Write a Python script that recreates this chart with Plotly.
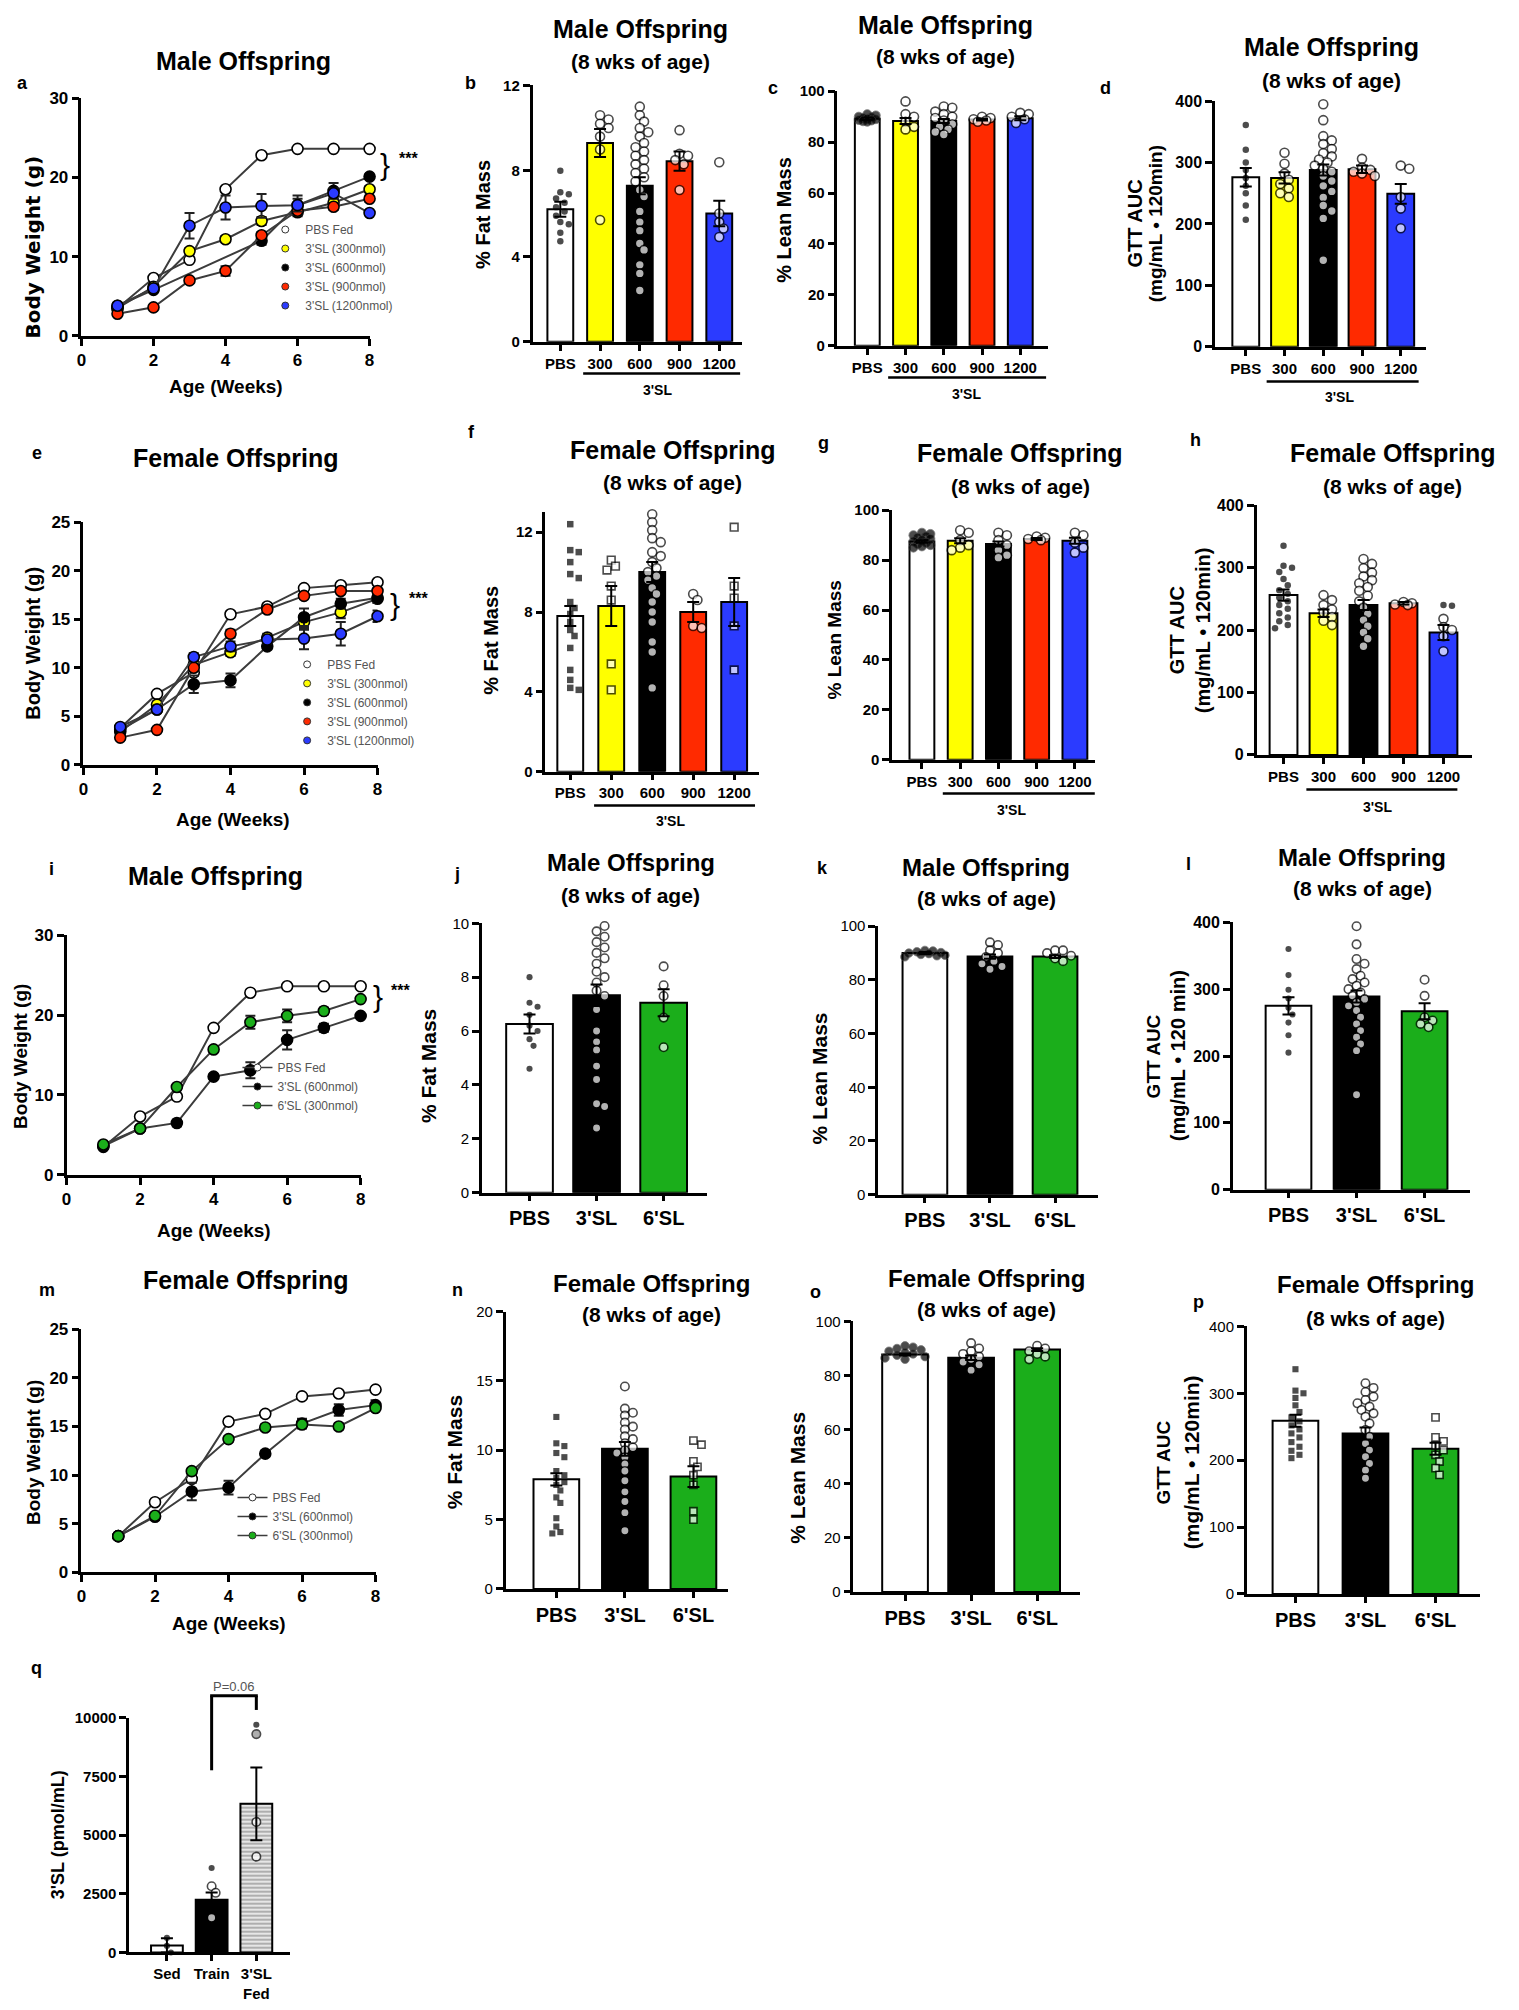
import plotly.graph_objects as go

W, H = 1519, 2010
ARIAL = "Liberation Sans, Arial, Helvetica, sans-serif"
DEJAVU = "DejaVu Sans, Liberation Sans, sans-serif"
BLK, WHT = "#000000", "#FFFFFF"
YEL, RED, BLU, GRN = "#FFFF00", "#FF2A00", "#2B3BFF", "#1BAE1B"
LINEC = "#3c3c3c"

# ======================= DATA =======================
weeks = [1, 2, 3, 4, 5, 6, 7, 8]
dose_cats = ["PBS", "300", "600", "900", "1200"]
sl_cats = ["PBS", "3'SL", "6'SL"]
q_cats = ["Sed", "Train", "3'SL<br>Fed"]
legend_dose = ["PBS Fed", "3'SL (300nmol)", "3'SL (600nmol)", "3'SL (900nmol)", "3'SL (1200nmol)"]
legend_sl = ["PBS Fed", "3'SL (600nmol)", "6'SL (300nmol)"]

# (a) male body weight
a_pbs = [3.5, 7.3, 9.6, 18.5, 22.8, 23.6, 23.6, 23.6]
a_300 = [3.5, 6.2, 10.7, 12.2, 14.5, 15.6, 16.8, 18.5]
a_600 = [3.8, 5.8, None, None, 12.0, 16.5, 18.3, 20.1]
a_900 = [2.8, 3.6, 7.0, 8.2, 12.7, 15.8, 16.3, 17.3]
a_1200 = [3.8, 6.0, 13.9, 16.2, 16.4, 16.5, 18.0, 15.5]
a_err_pbs = [0.2, 0.2, 0.2, 0.3, 0.2, 0.2, 0.2, 0.2]
a_err_300 = [0.2, 0.3, 0.4, 0.4, 0.5, 0.5, 0.5, 0.4]
a_err_600 = [0.2, 0.3, 0, 0, 0.5, 1.2, 1.0, 0.3]
a_err_900 = [0.2, 0.2, 0.3, 0.6, 0.4, 0.5, 0.4, 0.4]
a_err_1200 = [0.2, 0.3, 1.6, 1.5, 1.5, 0.8, 0.6, 0.3]

# (b) male % fat mass
b_means = [6.2, 9.3, 7.3, 8.45, 6.0]
b_sems = [0.35, 0.65, 0.4, 0.45, 0.6]
b_pbs = [8.0, 7.0, 6.9, 6.7, 6.5, 6.3, 6.1, 5.9, 5.6, 5.5, 5.1, 4.7]
b_300 = [10.6, 10.4, 10.2, 10.0, 9.6, 9.0, 5.7]
b_600 = [11.0, 10.6, 10.3, 10.0, 9.8, 9.6, 9.3, 9.1, 8.9, 8.7, 8.5, 8.3, 8.1, 7.9, 7.7,
         7.5, 7.1, 6.8, 6.1, 5.6, 5.2, 4.6, 4.3, 3.6, 3.2, 2.4]
b_900 = [9.9, 8.8, 8.7, 8.5, 8.3, 7.1]
b_1200 = [8.4, 6.0, 5.6, 5.3, 4.9]

# (c) male % lean mass
c_means = [89.2, 88.3, 88.3, 88.9, 89.4]
c_sems = [0.5, 1.2, 0.8, 0.4, 0.8]
c_pbs = [91, 90.5, 90, 89.8, 89.5, 89.2, 89, 88.7, 88.5, 88.2, 88]
c_300 = [96, 91, 90, 88, 86, 85]
c_600 = [94, 93.5, 92, 91, 90, 89.5, 88.5, 87, 86, 85, 84, 83]
c_900 = [90, 89.5, 89, 88.5, 88]
c_1200 = [91.5, 91, 90, 89, 87.5]

# (d) male GTT AUC
d_means = [276, 275, 288, 289, 249]
d_sems = [15, 9, 9, 6, 16]
d_pbs = [361, 321, 300, 288, 275, 262, 250, 230, 207]
d_300 = [316, 298, 282, 272, 265, 258, 250, 244]
d_600 = [395, 369, 343, 336, 330, 322, 315, 310, 305, 300, 295, 290, 285, 278, 270, 262,
         253, 243, 230, 221, 209, 141]
d_900 = [306, 292, 288, 285, 282, 278]
d_1200 = [295, 290, 244, 225, 193]

# (e) female body weight
e_pbs = [3.8, 7.3, 9.5, 15.5, 16.3, 18.2, 18.5, 18.8]
e_300 = [3.4, 6.2, 10.3, 11.6, 13.1, 14.7, 15.7, 17.1]
e_600 = [3.6, 5.7, 8.3, 8.7, 12.2, 15.2, 16.6, 17.2]
e_900 = [2.8, 3.6, 10.0, 13.5, 16.0, 17.4, 17.9, 17.9]
e_1200 = [3.9, 5.7, 11.1, 12.2, 12.9, 13.0, 13.5, 15.3]
e_err_pbs = [0.2, 0.2, 0.3, 0.3, 0.3, 0.2, 0.2, 0.2]
e_err_300 = [0.2, 0.3, 0.4, 0.4, 0.4, 0.8, 0.6, 0.4]
e_err_600 = [0.2, 0.3, 0.9, 0.7, 0.3, 0.9, 0.5, 0.5]
e_err_900 = [0.2, 0.2, 0.3, 0.4, 0.3, 0.3, 0.3, 0.3]
e_err_1200 = [0.2, 0.3, 0.4, 0.5, 0.4, 1.1, 1.2, 0.6]

# (f) female % fat mass
f_means = [7.8, 8.3, 10.0, 8.0, 8.5]
f_sems = [0.5, 1.0, 0.5, 0.5, 1.2]
f_pbs = [12.4, 11.1, 11.0, 10.5, 9.9, 9.7, 8.5, 8.2, 7.9, 7.5, 7.1, 6.8, 6.2, 5.1, 4.6, 4.2, 4.1]
f_300 = [10.6, 10.3, 10.1, 9.3, 8.6, 5.4, 4.1]
f_600 = [12.9, 12.5, 12.1, 11.7, 11.5, 11.0, 10.8, 10.5, 10.2, 10.0, 9.8, 9.6, 9.2, 8.9, 8.5,
         8.0, 7.5, 6.5, 6.0, 4.2]
f_900 = [8.9, 8.6, 7.3, 7.2]
f_1200 = [12.25, 9.3, 8.7, 7.3, 5.1]

# (g) female % lean mass
g_means = [87.5, 87.8, 86.5, 88.5, 87.8]
g_sems = [0.5, 1.0, 1.0, 0.4, 1.2]
g_pbs = [91, 90.5, 90, 89.5, 89, 88.5, 88, 87.5, 87, 86.5, 86, 85.5, 85]
g_300 = [92, 91, 88, 86, 85, 84]
g_600 = [91, 90, 88, 86, 84, 82, 81]
g_900 = [89.5, 89, 88.5, 88]
g_1200 = [91, 90, 87, 85, 83]

# (h) female GTT AUC
h_means = [256, 227, 240, 243, 196]
h_sems = [9, 6, 8, 2, 12]
h_pbs = [335, 303, 300, 293, 282, 272, 264, 258, 252, 246, 240, 234, 227, 220, 214, 208, 203]
h_300 = [256, 248, 240, 233, 228, 221, 215, 208]
h_600 = [314, 306, 299, 292, 286, 280, 275, 269, 263, 255, 246, 236, 226, 216, 206, 196, 186, 174]
h_900 = [245, 243, 241, 240]
h_1200 = [240, 239, 218, 205, 200, 190, 166]

# (i) male body weight, 3'SL vs 6'SL
i_pbs = [3.5, 7.3, 9.8, 18.4, 22.8, 23.6, 23.6, 23.6]
i_3sl = [3.6, 5.8, 6.5, 12.3, 13.1, 16.9, 18.4, 19.9]
i_6sl = [3.8, 5.8, 11.0, 15.7, 19.1, 19.9, 20.5, 22.0]
i_err_pbs = [0.2, 0.2, 0.3, 0.3, 0.3, 0.2, 0.2, 0.2]
i_err_3sl = [0.2, 0.3, 0.4, 0.3, 1.0, 1.2, 0.5, 0.3]
i_err_6sl = [0.2, 0.2, 0.3, 0.3, 0.8, 0.8, 0.4, 0.3]

# (j) male % fat mass
j_means = [6.26, 7.33, 7.05]
j_sems = [0.35, 0.4, 0.5]
j_pbs = [8.0, 7.05, 6.9, 6.6, 6.2, 6.0, 5.7, 5.45, 4.6]
j_3sl = [10.1, 9.9, 9.7, 9.5, 9.3, 9.1, 8.9, 8.7, 8.5, 8.2, 8.0, 7.8, 7.5, 7.3, 6.8, 6.0,
         5.6, 5.3, 4.7, 4.2, 3.3, 3.2, 2.4]
j_6sl = [8.4, 7.7, 7.3, 6.5, 5.4]

# (k) male % lean mass
k_means = [90.0, 88.7, 88.7]
k_sems = [0.4, 0.8, 0.5]
k_pbs = [91, 90.8, 90.5, 90.2, 90, 89.8, 89.5, 89.2, 89, 88.6]
k_3sl = [94, 93, 91, 90, 88.5, 87, 86, 85, 84]
k_6sl = [91, 91, 90, 89, 88, 87]

# (l) male GTT AUC
l_means = [275, 289, 267]
l_sems = [13, 9, 12]
l_pbs = [360, 321, 299, 286, 272, 262, 250, 231, 205]
l_3sl = [394, 367, 345, 338, 330, 320, 315, 310, 305, 300, 295, 290, 285, 280, 275, 268,
         258, 248, 238, 228, 218, 208, 142]
l_6sl = [314, 290, 258, 253, 248, 243]

# (m) female body weight, 3'SL vs 6'SL
m_pbs = [3.7, 7.2, 9.6, 15.5, 16.3, 18.1, 18.4, 18.8]
m_3sl = [3.7, 5.7, 8.3, 8.7, 12.2, 15.3, 16.7, 17.2]
m_6sl = [3.7, 5.8, 10.4, 13.7, 14.9, 15.2, 15.0, 16.9]
m_err_pbs = [0.2, 0.2, 0.3, 0.3, 0.3, 0.2, 0.2, 0.2]
m_err_3sl = [0.2, 0.3, 0.9, 0.7, 0.3, 0.5, 0.6, 0.5]
m_err_6sl = [0.2, 0.2, 0.3, 0.3, 0.3, 0.3, 0.3, 0.3]

# (n) female % fat mass
n_means = [7.9, 10.1, 8.1]
n_sems = [0.45, 0.5, 0.75]
n_pbs = [12.4, 10.5, 10.3, 9.8, 9.5, 8.5, 8.2, 8.0, 7.7, 7.5, 7.1, 6.6, 6.2, 5.1, 4.5, 4.1, 4.0]
n_3sl = [14.6, 13.0, 12.7, 12.5, 12.0, 11.7, 11.5, 11.0, 10.8, 10.5, 10.2, 10.0, 9.8, 9.5,
         9.0, 8.5, 7.8, 7.0, 6.3, 5.5, 4.2]
n_6sl = [10.7, 10.4, 9.2, 8.8, 8.2, 7.5, 5.6, 5.0]

# (o) female % lean mass
o_means = [87.8, 86.6, 89.6]
o_sems = [0.4, 0.8, 0.5]
o_pbs = [91, 90.5, 90, 89.5, 89, 88.5, 88, 87.5, 87, 86.5, 86]
o_3sl = [92, 90, 89, 88, 87, 86, 85, 84, 82]
o_6sl = [91, 90, 89, 88, 87, 86]

# (p) female GTT AUC
p_means = [259, 240, 217]
p_sems = [9, 9, 9]
p_pbs = [336, 304, 300, 293, 282, 272, 264, 258, 252, 246, 240, 234, 227, 220, 214, 208, 203]
p_3sl = [315, 308, 302, 295, 290, 285, 280, 275, 270, 265, 255, 245, 235, 225, 215, 205, 195, 185, 173]
p_6sl = [264, 234, 228, 222, 215, 208, 198, 188, 178]

# (q) serum 3'SL
q_means = [300, 2250, 6330]
q_sems = [300, 300, 1550]
q_sed = [620, 280, 0]
q_train = [3600, 2820, 2540, 1480]
q_fed = [9700, 9300, 5560, 4080]
q_pvalue = "P=0.06"

# ======================= HELPERS =======================
fig = go.Figure()
axes_layout = {}
annotations = []
shapes = []
counter = [0]


def fx(px):
    return px / W


def fy(py):
    return 1 - py / H


def font(size, bold=True, family=ARIAL, color=BLK):
    return dict(family=family, size=size, color=color, weight="bold" if bold else "normal")


def text(x, y, s, size, bold=True, family=ARIAL, angle=0, color=BLK, xanchor="center"):
    annotations.append(dict(x=fx(x), y=fy(y), xref="paper", yref="paper", text=s, showarrow=False,
                            font=font(size, bold, family, color), textangle=angle,
                            xanchor=xanchor, yanchor="middle"))


def hline(x0, x1, y, width=2.5):
    shapes.append(dict(type="line", xref="paper", yref="paper", x0=fx(x0), x1=fx(x1),
                       y0=fy(y), y1=fy(y), line=dict(color=BLK, width=width)))


def vline(x, y0, y1, width=2.5):
    shapes.append(dict(type="line", xref="paper", yref="paper", x0=fx(x), x1=fx(x),
                       y0=fy(y0), y1=fy(y1), line=dict(color=BLK, width=width)))


def new_axes(x0, x1, ytop, ybot, xrange, yrange, xkw, ykw):
    counter[0] += 1
    k = counter[0]
    sx = "" if k == 1 else str(k)
    base = dict(showline=True, linecolor=BLK, linewidth=2.5, ticks="outside", ticklen=7,
                tickwidth=2.5, tickcolor=BLK, showgrid=False, zeroline=False, mirror=False,
                fixedrange=True)
    xa = {**base, **xkw, "domain": [fx(x0), fx(x1)], "range": xrange, "anchor": "y" + sx}
    ya = {**base, **ykw, "domain": [fy(ybot), fy(ytop)], "range": yrange, "anchor": "x" + sx}
    axes_layout["xaxis" + sx] = xa
    axes_layout["yaxis" + sx] = ya
    return "x" + sx, "y" + sx


def swarm_offsets(vals, ppu_y, ppu_x, diam, max_px):
    n = len(vals)
    order = sorted(range(n), key=lambda i: -vals[i])
    step = diam * 0.5
    cands = [0.0]
    j = 1
    while j * step <= max_px:
        cands += [j * step, -j * step]
        j += 1
    placed = []
    offs = [0.0] * n
    for i in order:
        yp = vals[i] * ppu_y
        best, bestc, bestd = None, 0.0, -1.0
        for c in cands:
            dmin = min([((c - px) ** 2 + (yp - py) ** 2) ** 0.5 for px, py in placed] or [1e9])
            if dmin >= diam * 0.85:
                best = c
                break
            if dmin > bestd:
                bestd, bestc = dmin, c
        if best is None:
            best = bestc
        placed.append((best, yp))
        offs[i] = best / ppu_x
    return offs


STYLES = {
    "dot": dict(symbol="circle", scale=0.72, color=BLK, lc=BLK, lw=0),
    "sq": dict(symbol="square", scale=0.72, color=BLK, lc=BLK, lw=0),
    "open": dict(symbol="circle", scale=1.0, color=WHT, lc=BLK, lw=1.6),
    "opensq": dict(symbol="square", scale=0.85, color=WHT, lc=BLK, lw=1.6),
    "blk": dict(symbol="circle", scale=1.0, color=BLK, lc="#444", lw=0.8),
    "gray": dict(symbol="circle", scale=1.0, color="#8c8c8c", lc=BLK, lw=1.6),
}


def bar_panel(Y, E, B0, S, ytop, ybot, yrange, ytickvals, cats, means, sems, pts, colors, styles,
              barw_px, xfont, yfont, ybold=True, msize=9, pattern=None, ytickformat=None,
              xstandoff=None):
    r0 = -(B0 - Y) / S
    r1 = (E - B0) / S
    n = len(cats)
    xkw = dict(tickvals=list(range(n)), ticktext=cats, tickfont=font(xfont), ticklen=6)
    if xstandoff is not None:
        xkw["ticklabelstandoff"] = xstandoff
    ykw = dict(tickvals=ytickvals, tickfont=font(yfont, ybold))
    if ytickformat:
        ykw["tickformat"] = ytickformat
    xr, yr = new_axes(Y, E, ytop, ybot, [r0, r1], yrange, xkw, ykw)
    xs = list(range(n))
    marker = dict(color=colors, line=dict(color=BLK, width=2))
    if pattern:
        marker["pattern"] = pattern
    fig.add_trace(go.Bar(x=xs, y=means, width=barw_px / S, marker=marker, xaxis=xr, yaxis=yr,
                         showlegend=False, hoverinfo="skip"))
    ppu_y = (ybot - ytop) / (yrange[1] - yrange[0])
    for gi, vals in enumerate(pts):
        st = styles[gi]
        stl = st if isinstance(st, list) else [st] * len(vals)
        offs = swarm_offsets(vals, ppu_y, S, msize * 0.95, barw_px * 0.5)
        fig.add_trace(go.Scatter(
            x=[gi + o for o in offs], y=vals, mode="markers", xaxis=xr, yaxis=yr,
            showlegend=False, cliponaxis=False, hoverinfo="skip",
            marker=dict(symbol=[STYLES[s]["symbol"] for s in stl],
                        size=[msize * STYLES[s]["scale"] for s in stl],
                        color=[STYLES[s]["color"] for s in stl],
                        line=dict(color=[STYLES[s]["lc"] for s in stl],
                                  width=[STYLES[s]["lw"] for s in stl]))))
    fig.add_trace(go.Scatter(x=xs, y=means, mode="markers", xaxis=xr, yaxis=yr, showlegend=False,
                             marker=dict(size=1, color="rgba(0,0,0,0)"), hoverinfo="skip",
                             error_y=dict(type="data", array=sems, color=BLK, thickness=2,
                                          width=6)))
    return xr, yr


def line_panel(x0, x1, ytop, ybot, yrange, ytickvals, series, errs, fills, names, legend_id,
               legend_mode):
    xkw = dict(tickvals=[0, 2, 4, 6, 8], tickfont=font(17))
    ykw = dict(tickvals=ytickvals, tickfont=font(17))
    xr, yr = new_axes(x0, x1, ytop, ybot, [0, 8], yrange, xkw, ykw)
    for vals, er, fc in zip(series, errs, fills):
        fig.add_trace(go.Scatter(
            x=weeks, y=vals, mode="lines+markers", connectgaps=True, xaxis=xr, yaxis=yr,
            showlegend=False, cliponaxis=False, hoverinfo="skip",
            line=dict(color=LINEC, width=2),
            marker=dict(size=11, color=fc, line=dict(color=BLK, width=1.6)),
            error_y=dict(type="data", array=er, color="#222", thickness=2, width=5)))
    for vals, fc, nm in zip(series, fills, names):
        fig.add_trace(go.Scatter(
            x=[None], y=[None], mode=legend_mode, name=nm, legend=legend_id, xaxis=xr, yaxis=yr,
            line=dict(color=LINEC, width=1.5),
            marker=dict(size=7, color=fc, line=dict(color="#333", width=1))))
    return xr, yr


def brace(x, y, size=30):
    text(x, y, "}", size, bold=False)
    text(x + 23, y - 6, "***", 16, bold=True)


# ======================= ROW 1 =======================
line_panel(77, 367, 90, 330, [0, 30], [0, 10, 20, 30],
           [a_pbs, a_300, a_600, a_900, a_1200],
           [a_err_pbs, a_err_300, a_err_600, a_err_900, a_err_1200],
           [WHT, YEL, BLK, RED, BLU], legend_dose, "legend", "markers")
text(240, 52, "Male Offspring", 25)
text(18, 75, "a", 18)
text(28, 240, "Body Weight (g)", 20, family=DEJAVU, angle=-90)
text(222, 381, "Age (Weeks)", 19)
brace(383, 157)

five_colors = [WHT, YEL, BLK, RED, BLU]
bar_panel(531, 742, 559, 40, 77, 336, [0, 12], [0, 4, 8, 12], dose_cats, b_means, b_sems,
          [b_pbs, b_300, b_600, b_900, b_1200], five_colors,
          ["dot", "open", "open", "open", "open"], 26, 15, 15)
text(640, 20, "Male Offspring", 25)
text(640, 53, "(8 wks of age)", 21)
text(469, 75, "b", 18)
text(481, 207, "% Fat Mass", 20, angle=-90)
hline(582, 740, 368)
text(657, 385, "3'SL", 14)

bar_panel(838, 1050, 868, 38.5, 83, 340, [0, 100], [0, 20, 40, 60, 80, 100], dose_cats, c_means,
          c_sems, [c_pbs, c_300, c_600, c_900, c_1200], five_colors,
          ["blk", "open", "open", "open", "open"], 25, 15, 15)
text(947, 16, "Male Offspring", 25)
text(947, 48, "(8 wks of age)", 21)
text(773, 80, "c", 18)
text(784, 213, "% Lean Mass", 20, angle=-90)
hline(889, 1048, 372)
text(968, 389, "3'SL", 14)

bar_panel(1218, 1430, 1249, 39, 93, 341, [0, 400], [0, 100, 200, 300, 400], dose_cats, d_means,
          d_sems, [d_pbs, d_300, d_600, d_900, d_1200], five_colors,
          ["dot", "open", "open", "open", "open"], 27, 15, 16)
text(1335, 38, "Male Offspring", 25)
text(1335, 72, "(8 wks of age)", 21)
text(1108, 80, "d", 18)
text(1137, 217, "GTT AUC", 20, angle=-90)
text(1159, 217, "(mg/mL • 120min)", 19, angle=-90)
hline(1270, 1423, 376)
text(1343, 392, "3'SL", 14)

# ======================= ROW 2 =======================
line_panel(79, 375, 518, 763, [0, 25], [0, 5, 10, 15, 20, 25],
           [e_pbs, e_300, e_600, e_900, e_1200],
           [e_err_pbs, e_err_300, e_err_600, e_err_900, e_err_1200],
           [WHT, YEL, BLK, RED, BLU], legend_dose, "legend2", "markers")
text(233, 453, "Female Offspring", 25)
text(32, 448, "e", 18)
text(28, 640, "Body Weight (g)", 20, angle=-90)
text(230, 818, "Age (Weeks)", 19)
brace(393, 601)

bar_panel(544, 759, 569, 41.25, 508, 770, [0, 13], [0, 4, 8, 12], dose_cats, f_means, f_sems,
          [f_pbs, f_300, f_600, f_900, f_1200], five_colors,
          ["sq", "opensq", "open", "open", "opensq"], 26, 15, 15)
text(672, 445, "Female Offspring", 25)
text(672, 478, "(8 wks of age)", 21)
text(470, 427, "f", 18)
text(489, 637, "% Fat Mass", 20, angle=-90)
hline(593, 755, 804)
text(670, 820, "3'SL", 14)

bar_panel(893, 1097, 923, 38.5, 506, 758, [0, 100], [0, 20, 40, 60, 80, 100], dose_cats, g_means,
          g_sems, [g_pbs, g_300, g_600, g_900, g_1200], five_colors,
          ["blk", "open", "open", "open", "open"], 25, 15, 15)
text(1022, 448, "Female Offspring", 25)
text(1022, 482, "(8 wks of age)", 21)
text(824, 438, "g", 18)
text(835, 637, "% Lean Mass", 19, angle=-90)
hline(944, 1097, 792)
text(1013, 809, "3'SL", 14)

bar_panel(1260, 1477, 1287, 40.25, 501, 753, [0, 400], [0, 100, 200, 300, 400], dose_cats,
          h_means, h_sems, [h_pbs, h_300, h_600, h_900, h_1200], five_colors,
          ["dot", "open", "open", "open", ["dot", "dot", "open", "open", "open", "open", "open"]],
          28, 15, 16)
text(1397, 448, "Female Offspring", 25)
text(1397, 482, "(8 wks of age)", 21)
text(1198, 435, "h", 18)
text(1180, 627, "GTT AUC", 20, angle=-90)
text(1206, 627, "(mg/mL • 120min)", 20, angle=-90)
hline(1310, 1462, 788)
text(1382, 806, "3'SL", 14)

# ======================= ROW 3 =======================
line_panel(62, 358, 935, 1177, [0, 30], [0, 10, 20, 30],
           [i_pbs, i_3sl, i_6sl], [i_err_pbs, i_err_3sl, i_err_6sl],
           [WHT, BLK, GRN], legend_sl, "legend3", "lines+markers")
text(212, 875, "Male Offspring", 25)
text(47, 868, "i", 18)
text(15, 1057, "Body Weight (g)", 19, angle=-90)
text(210, 1233, "Age (Weeks)", 19)
brace(375, 997)

three_colors = [WHT, BLK, GRN]
bar_panel(480, 707, 528, 67.5, 923, 1195, [0, 10], [0, 2, 4, 6, 8, 10], sl_cats, j_means, j_sems,
          [j_pbs, j_3sl, j_6sl], three_colors, ["dot", "open", "open"], 47, 20, 15, ybold=False,
          msize=8.5)
text(630, 862, "Male Offspring", 24)
text(630, 895, "(8 wks of age)", 21)
text(455, 873, "j", 18)
text(427, 1067, "% Fat Mass", 21, angle=-90)

bar_panel(879, 1100, 926, 65.5, 926, 1197, [0, 100], [0, 20, 40, 60, 80, 100], sl_cats, k_means,
          k_sems, [k_pbs, k_3sl, k_6sl], three_colors, ["blk", "open", "open"], 45, 20, 15,
          ybold=False, msize=8.5)
text(988, 867, "Male Offspring", 24)
text(988, 898, "(8 wks of age)", 21)
text(823, 867, "k", 18)
text(820, 1080, "% Lean Mass", 21, angle=-90)

bar_panel(1236, 1475, 1292, 68.5, 922, 1192, [0, 400], [0, 100, 200, 300, 400], sl_cats, l_means,
          l_sems, [l_pbs, l_3sl, l_6sl], three_colors, ["dot", "open", "open"], 46, 20, 16,
          msize=8.5)
text(1366, 857, "Male Offspring", 24)
text(1366, 888, "(8 wks of age)", 21)
text(1191, 863, "l", 18)
text(1156, 1057, "GTT AUC", 19, angle=-90)
text(1181, 1057, "(mg/mL • 120 min)", 20, angle=-90)

# ======================= ROW 4 =======================
line_panel(77, 373, 1333, 1578, [0, 25], [0, 5, 10, 15, 20, 25],
           [m_pbs, m_3sl, m_6sl], [m_err_pbs, m_err_3sl, m_err_6sl],
           [WHT, BLK, GRN], legend_sl, "legend4", "lines+markers")
text(243, 1283, "Female Offspring", 25)
text(42, 1293, "m", 18)
text(28, 1457, "Body Weight (g)", 19, angle=-90)
text(225, 1630, "Age (Weeks)", 19)

bar_panel(504, 728, 555, 69, 1315, 1595, [0, 20], [0, 5, 10, 15, 20], sl_cats, n_means, n_sems,
          [n_pbs, n_3sl, n_6sl], three_colors, ["sq", "open", "opensq"], 46, 20, 15, ybold=False,
          msize=8.5)
text(651, 1287, "Female Offspring", 24)
text(651, 1318, "(8 wks of age)", 21)
text(455, 1293, "n", 18)
text(452, 1457, "% Fat Mass", 21, angle=-90)

bar_panel(854, 1082, 906, 66.5, 1325, 1598, [0, 100], [0, 20, 40, 60, 80, 100], sl_cats, o_means,
          o_sems, [o_pbs, o_3sl, o_6sl], three_colors, ["blk", "open", "open"], 46, 20, 15,
          ybold=False, msize=8.5)
text(988, 1282, "Female Offspring", 24)
text(988, 1313, "(8 wks of age)", 21)
text(816, 1295, "o", 18)
text(798, 1483, "% Lean Mass", 21, angle=-90)

bar_panel(1250, 1485, 1299, 70.5, 1330, 1600, [0, 400], [0, 100, 200, 300, 400], sl_cats, p_means,
          p_sems, [p_pbs, p_3sl, p_6sl], three_colors, ["sq", "open", "opensq"], 46, 20, 15,
          ybold=False, msize=8.5)
text(1380, 1288, "Female Offspring", 24)
text(1380, 1322, "(8 wks of age)", 21)
text(1201, 1305, "p", 18)
text(1166, 1467, "GTT AUC", 19, angle=-90)
text(1194, 1467, "(mg/mL • 120min)", 21, angle=-90)

# ======================= ROW 5 (q) =======================
Q_Y, Q_E, Q_B0, Q_S, Q_TOP, Q_BOT = 125, 287, 163, 45, 1725, 1962
bar_panel(Q_Y, Q_E, Q_B0, Q_S, Q_TOP, Q_BOT, [0, 10000], [0, 2500, 5000, 7500, 10000], q_cats,
          q_means, q_sems, [q_sed, q_train, q_fed], [WHT, BLK, "#e6e6e6"],
          [["dot", "dot", "dot"], ["dot", "open", "open", "open"], ["dot", "gray", "open", "open"]],
          32, 15, 15, msize=8.5, ytickformat="d",
          pattern=dict(shape=["", "", "-"], fgcolor="#8a8a8a", size=4, solidity=0.35))
text(32, 1675, "q", 18)
text(53, 1843, "3'SL (pmol/mL)", 18, angle=-90)


def q_px(v):
    return Q_BOT - v * (Q_BOT - Q_TOP) / 10000


def q_x(i):
    return Q_B0 + i * Q_S


vline(q_x(1), q_px(7760), q_px(10930), 3)
vline(q_x(2), q_px(10330), q_px(10930), 3)
hline(q_x(1) - 1.5, q_x(2) + 1.5, q_px(10930), 3)
text((q_x(1) + q_x(2)) / 2, q_px(10930) - 9, q_pvalue, 13, bold=False, color="#555")

# ======================= LAYOUT =======================
def legend_box(left, top):
    return dict(x=fx(left), y=fy(top), xanchor="left", yanchor="top", bgcolor="rgba(0,0,0,0)",
                font=dict(family=ARIAL, size=12, color="#555"), tracegroupgap=0,
                itemclick=False, itemdoubleclick=False)


fig.update_layout(
    width=W, height=H, autosize=False, margin=dict(l=0, r=0, t=0, b=0),
    paper_bgcolor=WHT, plot_bgcolor="rgba(0,0,0,0)", showlegend=True,
    font=dict(family=ARIAL, color=BLK), annotations=annotations, shapes=shapes,
    legend=legend_box(262, 208), legend2=legend_box(284, 647),
    legend3=legend_box(234, 1054), legend4=legend_box(229, 1488),
    **axes_layout)

fig.write_html("out.html", config={"displayModeBar": False},
               post_script="document.body.style.margin='0px';")
